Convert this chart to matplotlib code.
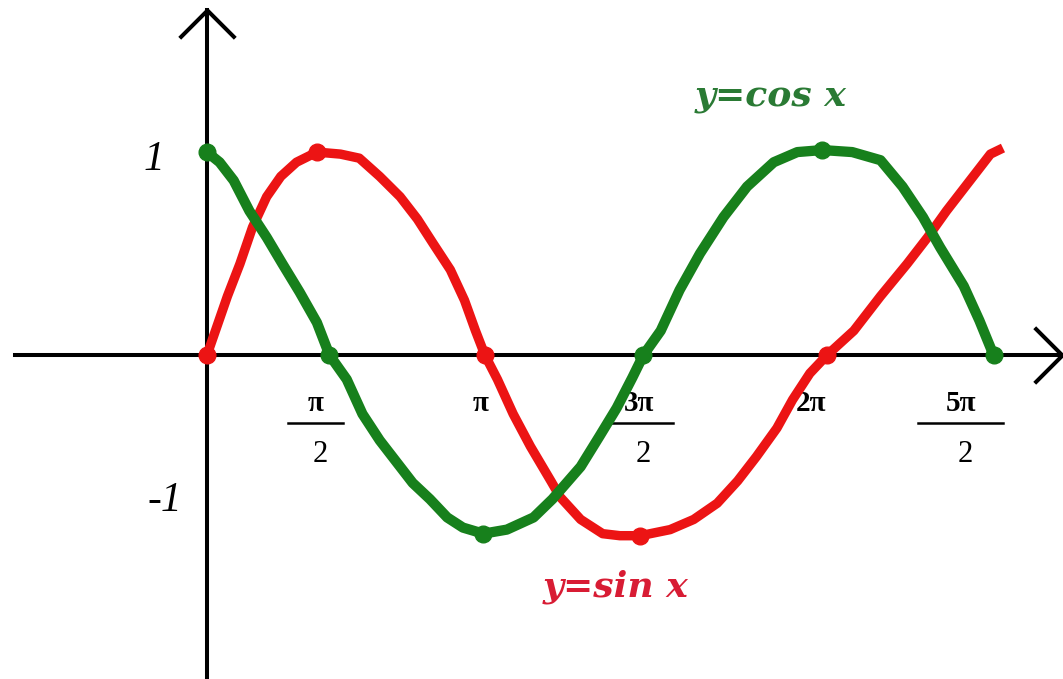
import matplotlib.pyplot as plt
from matplotlib.path import Path

plt.rcParams['font.family'] = ['Liberation Serif', 'DejaVu Serif']

sin_x = [0.0, 0.13, 0.21, 0.29, 0.38, 0.47, 0.57, 0.70, 0.85, 0.97, 1.10, 1.23, 1.34, 1.44,
         1.55, 1.64, 1.71, 1.77, 1.85, 1.95, 2.06, 2.19, 2.25, 2.38, 2.52, 2.63, 2.76, 2.95,
         3.10, 3.25, 3.38, 3.50, 3.63, 3.73, 3.84, 3.95, 4.12, 4.29, 4.46, 4.59, 4.71, 4.86,
         4.99, 5.07]
sin_y = [0.0, 0.29, 0.45, 0.63, 0.78, 0.88, 0.95, 1.0, 0.99, 0.97, 0.88, 0.78, 0.67, 0.55,
         0.42, 0.27, 0.12, 0.0, -0.12, -0.29, -0.45, -0.62, -0.70, -0.81, -0.88, -0.89, -0.89, -0.86,
         -0.81, -0.73, -0.62, -0.50, -0.36, -0.22, -0.09, 0.0, 0.12, 0.29, 0.45, 0.58, 0.71, 0.86,
         0.99, 1.02]

cos_x = [0.0, 0.08, 0.17, 0.27, 0.38, 0.48, 0.59, 0.70, 0.78, 0.89, 0.99, 1.10, 1.21, 1.31,
         1.42, 1.53, 1.63, 1.76, 1.91, 2.08, 2.20, 2.38, 2.50, 2.61, 2.71, 2.78, 2.89, 3.01,
         3.14, 3.29, 3.44, 3.61, 3.76, 3.92, 4.11, 4.29, 4.43, 4.56, 4.67, 4.82, 4.92, 5.01]
cos_y = [1.0, 0.95, 0.86, 0.71, 0.58, 0.45, 0.31, 0.16, 0.0, -0.12, -0.29, -0.42, -0.53, -0.63,
         -0.71, -0.80, -0.85, -0.88, -0.86, -0.80, -0.71, -0.55, -0.40, -0.26, -0.11, 0.0, 0.12, 0.32,
         0.50, 0.68, 0.83, 0.95, 1.0, 1.01, 1.0, 0.96, 0.83, 0.68, 0.53, 0.34, 0.17, 0.0]

# marked points
sin_dot_x = [0.0, 0.70, 1.77, 2.76, 3.95]
sin_dot_y = [0.0, 1.0, 0.0, -0.89, 0.0]
cos_dot_x = [0.0, 0.78, 1.76, 2.78, 3.92, 5.01]
cos_dot_y = [1.0, 0.0, -0.88, 0.0, 1.01, 0.0]

# x tick labels (fractions written by hand)
tick_x = [0.69, 1.74, 2.75, 3.85, 4.80]
tick_num = ['π', 'π', '3π', '2π', '5π']
tick_den = ['2', None, '2', None, '2']
bar_half = [0.175, 0, 0.217, 0, 0.27]

y_labels = ['1', '-1']
y_label_x = [-0.27, -0.16]
y_label_pos = [0.96, -0.72]

RED = '#ec1414'
GREEN = '#17801c'

fig = plt.figure(figsize=(10.63, 6.79), dpi=100)
ax = fig.add_axes([15 / 1063, 0, 1047 / 1063, 669 / 679])
ax.set_xlim(-1.223, 5.446)
ax.set_ylim(-1.596, 1.70)

for s in ['top', 'right']:
    ax.spines[s].set_visible(False)
for s in ['left', 'bottom']:
    ax.spines[s].set_position(('data', 0))
    ax.spines[s].set_linewidth(2.9)
ax.set_xticks([])
ax.set_yticks([])

# open arrow heads
right_head = Path([(-1, 1), (0, 0), (-1, -1)], [Path.MOVETO, Path.LINETO, Path.LINETO])
up_head = Path([(-1, -1), (0, 0), (1, -1)], [Path.MOVETO, Path.LINETO, Path.LINETO])
ax.plot(1, 0, marker=right_head, ms=40, mfc='none', mec='black', mew=2.9,
        transform=ax.get_yaxis_transform(), clip_on=False)
ax.plot(0, 1, marker=up_head, ms=40, mfc='none', mec='black', mew=2.9,
        transform=ax.get_xaxis_transform(), clip_on=False)

ax.plot(sin_x, sin_y, color=RED, lw=6.8, solid_joinstyle='round', solid_capstyle='butt', zorder=5)
ax.plot(sin_dot_x, sin_dot_y, 'o', color=RED, ms=12, zorder=5)
ax.plot(cos_x, cos_y, color=GREEN, lw=7.4, solid_joinstyle='round', solid_capstyle='butt', zorder=6)
ax.plot(cos_dot_x, cos_dot_y, 'o', color=GREEN, ms=12, zorder=6)

for x, num, den, hw in zip(tick_x, tick_num, tick_den, bar_half):
    ax.text(x, -0.24, num, ha='center', va='center', fontsize=21, weight='bold', zorder=3)
    if den:
        ax.plot([x - hw, x + hw], [-0.335, -0.335], color='black', lw=1.8, zorder=3)
        ax.text(x + 0.03, -0.49, den, ha='center', va='center', fontsize=22, zorder=3)

for lab, x, y in zip(y_labels, y_label_x, y_label_pos):
    ax.text(x, y, lab, ha='right', va='center', fontsize=30, style='italic')

ax.text(3.59, 1.27, 'y=cos x', color='#2a7a34', fontsize=26, style='italic',
        weight='bold', family='DejaVu Serif', ha='center', va='center')
ax.text(2.60, -1.14, 'y=sin x', color='#d81c34', fontsize=26, style='italic',
        weight='bold', family='DejaVu Serif', ha='center', va='center')

fig.savefig('out.png', dpi=100)
